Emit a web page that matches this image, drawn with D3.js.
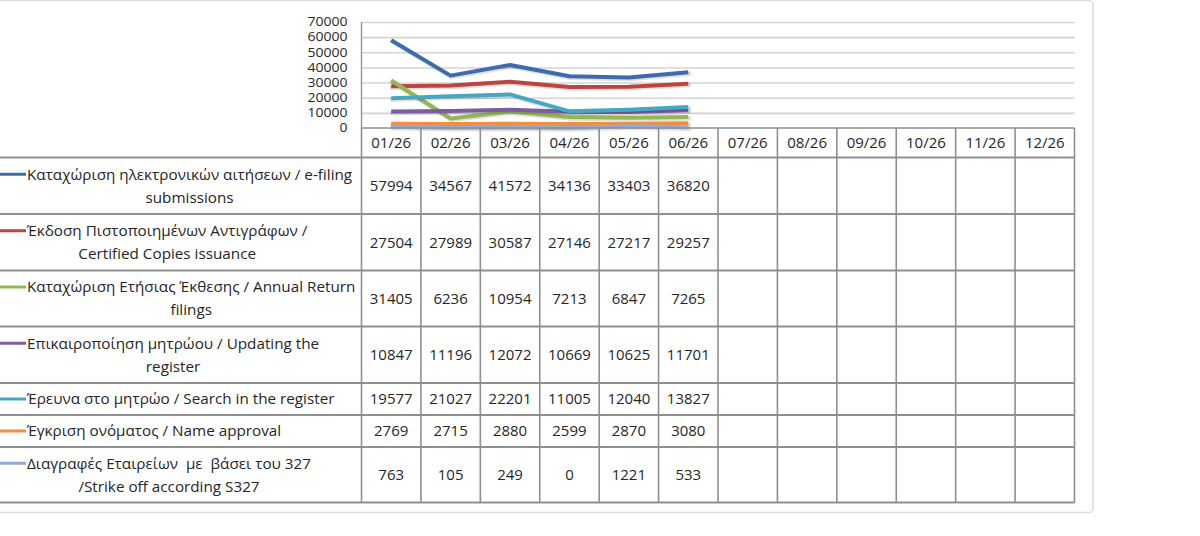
<!DOCTYPE html>
<html>
<head>
<meta charset="utf-8">
<script src="https://cdn.jsdelivr.net/npm/d3@7"></script>
<style>
  html, body { margin: 0; padding: 0; background: #fff; }
  svg { display: block; }
  text { font-family: "Open Sans", "Noto Sans", sans-serif; fill: #262626; }
</style>
</head>
<body>
<svg id="chart" width="1200" height="536"></svg>
<script>
// ---------- data ----------
const months = ["01/26","02/26","03/26","04/26","05/26","06/26","07/26","08/26","09/26","10/26","11/26","12/26"];
const yTicks = [0, 10000, 20000, 30000, 40000, 50000, 60000, 70000];

const seriesNames = [
  ["Καταχώριση ηλεκτρονικών αιτήσεων / e-filing", "submissions"],
  ["Έκδοση Πιστοποιημένων Αντιγράφων /", "Certified Copies issuance"],
  ["Καταχώριση Ετήσιας Έκθεσης / Annual Return", "filings"],
  ["Επικαιροποίηση μητρώου / Updating the", "register"],
  ["Έρευνα στο μητρώο / Search in the register"],
  ["Έγκριση ονόματος / Name approval"],
  ["Διαγραφές Εταιρείων  με  βάσει του 327", "/Strike off according S327"]
];
const eFiling      = [57994, 34567, 41572, 34136, 33403, 36820];
const certified    = [27504, 27989, 30587, 27146, 27217, 29257];
const annualReturn = [31405, 6236, 10954, 7213, 6847, 7265];
const updating     = [10847, 11196, 12072, 10669, 10625, 11701];
const search       = [19577, 21027, 22201, 11005, 12040, 13827];
const nameApproval = [2769, 2715, 2880, 2599, 2870, 3080];
const strikeOff    = [763, 105, 249, 0, 1221, 533];
const seriesValues = [eFiling, certified, annualReturn, updating, search, nameApproval, strikeOff];

// ---------- styles / layout ----------
const colors = ["#3d6cae", "#bb4542", "#95b752", "#7a5e9e", "#45a7c1", "#ef8f3f", "#94aad6"];
const L = {
  plotLeft: 361.5, plotRight: 1074.5, plotTop: 22, plotBottom: 128,
  headerBottom: 157.5,
  rowHeights: [56.5, 56.5, 56, 56.5, 32, 32, 55.5],
  keyX0: 0, keyX1: 26, textX: 27
};

const svg = d3.select("#chart");

// outer chart frame
svg.append("rect")
  .attr("x", -6).attr("y", 0.5).attr("width", 1099).attr("height", 512)
  .attr("rx", 4).attr("fill", "#fff").attr("stroke", "#dcdcdc").attr("stroke-width", 1.5);

const x = d3.scaleBand().domain(months).range([L.plotLeft, L.plotRight]);
const y = d3.scaleLinear().domain([0, 70000]).range([L.plotBottom, L.plotTop]);

// gridlines
const grid = svg.append("g")
  .attr("transform", `translate(${L.plotLeft},0)`)
  .call(d3.axisLeft(y).tickValues(yTicks.filter(t => t > 0)).tickSize(-(L.plotRight - L.plotLeft)).tickFormat(""));
grid.select(".domain").remove();
grid.selectAll("line").attr("stroke", "#d4d4d4").attr("stroke-width", 1.6);

// y axis labels
const yAxis = svg.append("g")
  .attr("transform", `translate(${L.plotLeft},0)`)
  .call(d3.axisLeft(y).tickValues(yTicks).tickSize(0).tickPadding(14).tickFormat(d3.format("d")));
yAxis.select(".domain").remove();
yAxis.selectAll("text")
  .attr("font-size", 12).attr("font-family", "Liberation Sans, Arial, sans-serif").attr("fill", "#333")
  .attr("textLength", d => String(d).length * 8).attr("lengthAdjust", "spacingAndGlyphs");

// vertical axis line
svg.append("line")
  .attr("x1", L.plotLeft).attr("x2", L.plotLeft).attr("y1", L.plotTop).attr("y2", L.plotBottom)
  .attr("stroke", "#9a9a9a").attr("stroke-width", 1.5);

// ---------- series lines ----------
const line = d3.line()
  .x((d, i) => x(months[i]) + x.bandwidth() / 2)
  .y(d => y(d));

const linesG = svg.append("g");
seriesValues.forEach((vals, k) => {
  linesG.append("path")
    .datum(vals)
    .attr("d", line)
    .attr("fill", "none")
    .attr("stroke", "#000").attr("stroke-opacity", 0.12)
    .attr("stroke-width", 4.5)
    .attr("transform", "translate(1,1.5)")
    .attr("stroke-linejoin", "round").attr("stroke-linecap", "round");
  linesG.append("path")
    .datum(vals)
    .attr("d", line)
    .attr("fill", "none")
    .attr("stroke", colors[k])
    .attr("stroke-width", 4)
    .attr("stroke-linejoin", "round").attr("stroke-linecap", "butt");
});

// ---------- data table ----------
const rowEdges = [L.headerBottom];
L.rowHeights.forEach(h => rowEdges.push(rowEdges[rowEdges.length - 1] + h));
const tableBottom = rowEdges[rowEdges.length - 1];
const gridColor = "#8f8f8f";
const tbl = svg.append("g");

// horizontal lines
tbl.append("line").attr("x1", L.plotLeft).attr("x2", L.plotRight)
  .attr("y1", L.plotBottom).attr("y2", L.plotBottom).attr("stroke", gridColor).attr("stroke-width", 1.6);
rowEdges.forEach(yy => {
  tbl.append("line").attr("x1", 0).attr("x2", L.plotRight)
    .attr("y1", yy).attr("y2", yy).attr("stroke", gridColor).attr("stroke-width", 2);
});
// vertical lines
const colEdges = months.map(m => x(m)).concat([L.plotRight]);
colEdges.forEach(xx => {
  tbl.append("line").attr("x1", xx).attr("x2", xx)
    .attr("y1", L.plotBottom).attr("y2", tableBottom).attr("stroke", gridColor).attr("stroke-width", 1.6);
});

// header labels
tbl.selectAll("text.hdr").data(months).join("text")
  .attr("class", "hdr")
  .attr("x", d => x(d) + x.bandwidth() / 2)
  .attr("y", (L.plotBottom + L.headerBottom) / 2)
  .attr("dy", "0.36em")
  .attr("text-anchor", "middle")
  .attr("font-size", 15)
  .text(d => d);

// row labels, keys and values
seriesValues.forEach((vals, k) => {
  const top = rowEdges[k], bot = rowEdges[k + 1], mid = (top + bot) / 2;
  const lines = seriesNames[k];
  const lh = 23;
  const firstY = mid - (lines.length - 1) * lh / 2;

  const g = tbl.append("g");
  const texts = lines.map((s, j) => g.append("text")
    .attr("y", firstY + j * lh).attr("dy", "0.36em")
    .style("white-space", "pre")
    .attr("font-size", 15.25).attr("text-anchor", "middle").text(s));
  const maxW = d3.max(texts, t => t.node().getComputedTextLength());
  texts.forEach(t => t.attr("x", L.textX + maxW / 2));

  g.append("line").attr("x1", L.keyX0).attr("x2", L.keyX1)
    .attr("y1", firstY).attr("y2", firstY)
    .attr("stroke", colors[k]).attr("stroke-width", 3);

  g.selectAll("text.val").data(vals).join("text")
    .attr("class", "val")
    .attr("x", (d, i) => x(months[i]) + x.bandwidth() / 2)
    .attr("y", mid).attr("dy", "0.36em")
    .attr("text-anchor", "middle").attr("font-size", 15)
    .text(d => d);
});
</script>
</body>
</html>
